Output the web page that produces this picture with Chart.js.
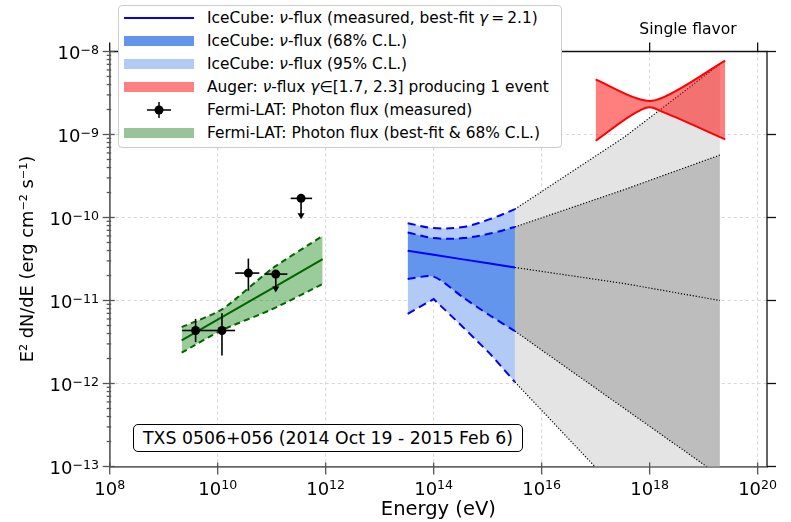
<!DOCTYPE html>
<html>
<head>
<meta charset="utf-8">
<script src="https://cdn.jsdelivr.net/npm/chart.js@4.4.1/dist/chart.umd.min.js"></script>
<style>
  body { margin: 0; background: #fff; font-family: "DejaVu Sans", sans-serif; }
  #wrap { position: relative; width: 791px; height: 522px; }
  #chart { position: absolute; left: 0; top: 0; }
  #legend {
    position: absolute; left: 118px; top: 5px; width: 444px; height: 143px;
    box-sizing: border-box; border: 1px solid #cccccc; border-radius: 4px;
    background: #fff; padding-top: 1px;
  }
  .row { height: 22.9px; display: flex; align-items: center; font-size: 15.4px; color: #000; white-space: nowrap; }
  .handle { width: 70px; height: 20px; margin-left: 5px; margin-right: 13px; position: relative; flex: none; }
  .hline { position: absolute; left: 0; right: 0; top: 9px; height: 2px; background: #0000ff; }
  .hpatch { position: absolute; left: 0; right: 0; top: 5px; height: 10px; }
  #srcbox {
    position: absolute; left: 133px; top: 424px; width: 390px; height: 28px;
    box-sizing: border-box; border: 1px solid #000; border-radius: 5px; background: #fff;
    font-size: 17.3px; line-height: 26px; text-align: center; color: #000; white-space: nowrap;
  }
  #flavor { position: absolute; left: 608px; top: 20px; width: 160px; text-align: center; font-size: 15.6px; color: #000; }
  .tick { position: absolute; width: 80px; font-size: 18px; line-height: 18px; color: #000; white-space: nowrap; }
  .tick span { font-size: 12.6px; position: relative; top: -5.6px; }
</style>
</head>
<body>
<div id="wrap">
  <canvas id="chart" width="791" height="522"></canvas>
  <div id="legend">
    <div class="row"><span class="handle"><span class="hline"></span></span><span>IceCube: <i>ν</i>-flux (measured, best-fit <i>γ</i>&thinsp;=&thinsp;2.1)</span></div>
    <div class="row"><span class="handle"><span class="hpatch" style="background:rgb(100,149,237)"></span></span><span>IceCube: <i>ν</i>-flux (68% C.L.)</span></div>
    <div class="row"><span class="handle"><span class="hpatch" style="background:rgb(177,202,246)"></span></span><span>IceCube: <i>ν</i>-flux (95% C.L.)</span></div>
    <div class="row"><span class="handle"><span class="hpatch" style="background:rgb(255,128,128)"></span></span><span>Auger: <i>ν</i>-flux <i>γ</i>∈[1.7, 2.3] producing 1 event</span></div>
    <div class="row"><span class="handle"><svg width="70" height="20"><line x1="23" y1="10" x2="47" y2="10" stroke="#000" stroke-width="1.5"/><line x1="35" y1="2" x2="35" y2="18" stroke="#000" stroke-width="1.5"/><circle cx="35" cy="10" r="4.5" fill="#000"/></svg></span><span>Fermi-LAT: Photon flux (measured)</span></div>
    <div class="row"><span class="handle"><span class="hpatch" style="background:rgb(153,196,153)"></span></span><span>Fermi-LAT: Photon flux (best-fit &amp; 68% C.L.)</span></div>
  </div>
  <div id="flavor">Single flavor</div>
  <div id="srcbox">TXS 0506+056 (2014 Oct 19 - 2015 Feb 6)</div>
</div>
<script>
// ============= AXES =============
const xTicks = [1e8, 1e10, 1e12, 1e14, 1e16, 1e18, 1e20];
const yTicks = [1e-13, 1e-12, 1e-11, 1e-10, 1e-9, 1e-8];

// ============= ICECUBE (measured range) =============
const icE     = [3.3e13, 1.0e14, 3.5e14, 1.1e15, 3.2e15];
const icFit   = [3.97e-11, 3.55e-11, 3.13e-11, 2.79e-11, 2.5e-11];
const ic68Up  = [6.6e-11, 5.65e-11, 5.65e-11, 6.4e-11, 7.7e-11];
const ic68Lo  = [1.82e-11, 1.94e-11, 1.09e-11, 6.6e-12, 4.27e-12];
const ic95Up  = [8.55e-11, 7.45e-11, 7.7e-11, 9.55e-11, 1.26e-10];
const ic95Lo  = [6.9e-12, 1.04e-11, 4.77e-12, 2.29e-12, 1.04e-12];

// ============= ICECUBE (extrapolation) =============
const extE     = [3.2e15, 3.4e17, 2.0e19];
const extFit   = [2.5e-11, 1.6e-11, 1.0e-11];
const ext68Up  = [7.7e-11, 2.17e-10, 5.66e-10];
const ext68Lo  = [4.27e-12, 5.0e-13, 7.7e-14];
const ext95Up  = [1.26e-10, 9.3e-10, 7.07e-9];
const ext95Lo  = [1.04e-12, 4.2e-14, 2.6e-15];

// ============= AUGER =============
const augerE  = [1e17, 5.75e17, 1e18, 1.78e18, 2.5e19];
const augerUp = [4.62e-9, 2.73e-9, 2.53e-9, 2.8e-9, 7.75e-9];
const augerLo = [8.4e-10, 1.86e-9, 2.13e-9, 1.86e-9, 8.75e-10];

// ============= FERMI-LAT =============
const fermiE   = [2.15e9, 1.2e10, 1.0e11, 8.8e11];
const fermiFit = [3.3e-12, 6.3e-12, 1.39e-11, 3.16e-11];
const fermiUp  = [4.77e-12, 7.8e-12, 2.4e-11, 6.0e-11];
const fermiLo  = [2.35e-12, 4.4e-12, 7.8e-12, 1.58e-11];

const fermiPtE = [3.9e9, 1.2e10, 3.7e10, 1.19e11, 3.5e11];
const fermiPtF = [4.35e-12, 4.35e-12, 2.14e-11, 2.08e-11, 1.7e-10];
const fermiELo = [2.2e9, 7.2e9, 2.1e10, 7.3e10, 2.25e11];
const fermiEHi = [7.2e9, 2.1e10, 5.9e10, 1.95e11, 5.6e11];
const fermiFLo = [3.15e-12, 2.18e-12, 1.31e-11, 1.25e-11, 9.5e-11];
const fermiFHi = [6.0e-12, 7.0e-12, 3.2e-11, 2.08e-11, 1.7e-10];
const fermiUL  = [false, false, false, true, true];

// ============= HELPERS =============
function pts(xs, ys) {
    return xs.map((x, i) => ({ x: x, y: ys[i] }));
}
function line(data, color, opts) {
    return Object.assign({
        data: data,
        borderColor: color,
        borderWidth: 2,
        pointRadius: 0,
        fill: false,
        tension: 0
    }, opts || {});
}
function expText(v) {
    return String(Math.round(Math.log10(v))).replace('-', '\u2212');
}

const BLUE = '#0000ff';
const GREEN = '#006400';
const DOT = [1.2, 1.8];

const datasets = [
    // 0-4 extrapolated regions (gray)
    line(pts(extE, ext95Up), '#000', { borderWidth: 1.2, borderDash: DOT, fill: '+1', backgroundColor: '#e4e4e4', order: 20 }),
    line(pts(extE, ext95Lo), '#000', { borderWidth: 1.2, borderDash: DOT, order: 16 }),
    line(pts(extE, ext68Up), '#000', { borderWidth: 1.2, borderDash: DOT, fill: '+1', backgroundColor: '#bdbdbd', order: 19 }),
    line(pts(extE, ext68Lo), '#000', { borderWidth: 1.2, borderDash: DOT, order: 16 }),
    line(pts(extE, extFit), '#000', { borderWidth: 1.2, borderDash: DOT, order: 16 }),
    // 5-9 IceCube
    line(pts(icE, ic95Up), BLUE, { borderDash: [8, 5], fill: '+1', backgroundColor: 'rgb(177,202,246)', tension: 0.35, order: 15 }),
    line(pts(icE, ic95Lo), BLUE, { borderDash: [8, 5], order: 12 }),
    line(pts(icE, ic68Up), BLUE, { borderDash: [8, 5], fill: '+1', backgroundColor: 'rgb(100,149,237)', tension: 0.35, order: 14 }),
    line(pts(icE, ic68Lo), BLUE, { borderDash: [8, 5], tension: 0.25, order: 12 }),
    line(pts(icE, icFit), BLUE, { order: 12 }),
    // 10-11 Auger
    line(pts(augerE, augerUp), '#ff0000', { fill: '+1', backgroundColor: 'rgba(255,0,0,0.5)', cubicInterpolationMode: 'monotone', order: 10 }),
    line(pts(augerE, augerLo), '#ff0000', { cubicInterpolationMode: 'monotone', order: 9 }),
    // 12-14 Fermi
    line(pts(fermiE, fermiUp), GREEN, { borderDash: [6, 4], fill: '+1', backgroundColor: 'rgba(0,128,0,0.4)', tension: 0.2, order: 8 }),
    line(pts(fermiE, fermiLo), GREEN, { borderDash: [6, 4], tension: 0.2, order: 7 }),
    line(pts(fermiE, fermiFit), GREEN, { order: 7 })
];

// ============= DECORATION PLUGIN =============
const decor = {
    id: 'decor',
    beforeDatasetsDraw(chart) {
        const { ctx, chartArea: a, scales: { x, y } } = chart;
        ctx.save();
        ctx.strokeStyle = '#cccccc';
        ctx.lineWidth = 0.8;
        ctx.setLineDash([3, 3]);
        xTicks.forEach(v => {
            const px = x.getPixelForValue(v);
            if (px <= a.left + 1 || px >= a.right - 1) return;
            ctx.beginPath(); ctx.moveTo(px, a.top); ctx.lineTo(px, a.bottom); ctx.stroke();
        });
        yTicks.forEach(v => {
            const py = y.getPixelForValue(v);
            if (py >= a.bottom - 1 || py <= a.top + 1) return;
            ctx.beginPath(); ctx.moveTo(a.left, py); ctx.lineTo(a.right, py); ctx.stroke();
        });
        ctx.restore();
    },
    afterDatasetsDraw(chart) {
        const { ctx, scales: { x, y } } = chart;
        ctx.save();
        ctx.strokeStyle = '#000';
        ctx.fillStyle = '#000';
        ctx.lineWidth = 1.6;
        fermiPtE.forEach((e, i) => {
            const px = x.getPixelForValue(e);
            const py = y.getPixelForValue(fermiPtF[i]);
            const x0 = x.getPixelForValue(fermiELo[i]);
            const x1 = x.getPixelForValue(fermiEHi[i]);
            const yLo = y.getPixelForValue(fermiFLo[i]);
            const yHi = y.getPixelForValue(fermiFHi[i]);
            ctx.beginPath(); ctx.moveTo(x0, py); ctx.lineTo(x1, py); ctx.stroke();
            if (fermiUL[i]) {
                ctx.beginPath(); ctx.moveTo(px, py); ctx.lineTo(px, yLo - 5); ctx.stroke();
                ctx.beginPath();
                ctx.moveTo(px - 3.5, yLo - 6); ctx.lineTo(px + 3.5, yLo - 6); ctx.lineTo(px, yLo);
                ctx.closePath(); ctx.fill();
            } else {
                ctx.beginPath(); ctx.moveTo(px, yHi); ctx.lineTo(px, yLo); ctx.stroke();
            }
            ctx.beginPath(); ctx.arc(px, py, 4.5, 0, Math.PI * 2); ctx.fill();
        });
        ctx.restore();
    },
    afterDraw(chart) {
        const { ctx, chartArea: a, scales: { x, y } } = chart;
        ctx.save();
        // top and right spines
        ctx.strokeStyle = '#111';
        ctx.lineWidth = 1.3;
        ctx.beginPath();
        ctx.moveTo(a.left, a.top); ctx.lineTo(a.right, a.top); ctx.lineTo(a.right, a.bottom);
        ctx.stroke();
        // top ticks and right ticks
        xTicks.forEach(v => {
            const px = x.getPixelForValue(v);
            ctx.beginPath(); ctx.moveTo(px, a.top); ctx.lineTo(px, a.top - 9); ctx.stroke();
        });
        yTicks.forEach(v => {
            const py = y.getPixelForValue(v);
            ctx.beginPath(); ctx.moveTo(a.right, py); ctx.lineTo(a.right + 9, py); ctx.stroke();
        });
        // left and bottom ticks (major + minor)
        ctx.strokeStyle = '#555';
        ctx.lineWidth = 1.3;
        yTicks.forEach((v, i) => {
            const py = y.getPixelForValue(v);
            ctx.beginPath(); ctx.moveTo(a.left - 7, py); ctx.lineTo(a.left + 5, py); ctx.stroke();
            if (i === yTicks.length - 1) return;
            for (let m = 2; m <= 9; m++) {
                const pm = y.getPixelForValue(v * m);
                ctx.beginPath(); ctx.moveTo(a.left - 3, pm); ctx.lineTo(a.left + 1.5, pm); ctx.stroke();
            }
        });
        xTicks.forEach(v => {
            const px = x.getPixelForValue(v);
            ctx.beginPath(); ctx.moveTo(px, a.bottom - 4); ctx.lineTo(px, a.bottom + 8); ctx.stroke();
        });
        ctx.restore();
    }
};

// ============= CHART =============
const chart = new Chart(document.getElementById('chart'), {
    type: 'line',
    data: { datasets: datasets },
    options: {
        responsive: false,
        animation: false,
        events: [],
        layout: { padding: { top: 51.5, right: 24, left: 0, bottom: 0 } },
        plugins: {
            legend: { display: false },
            tooltip: { enabled: false }
        },
        scales: {
            x: {
                type: 'logarithmic',
                min: 1e8,
                max: 1.49e20,
                afterFit: s => { s.height = 55.5; },
                afterBuildTicks: s => { s.ticks = xTicks.map(v => ({ value: v })); },
                grid: { display: false, drawTicks: false },
                border: { display: true, color: '#666', width: 1.8 },
                ticks: { display: false },
                title: {
                    display: true,
                    text: 'Energy (eV)',
                    color: '#000',
                    font: { family: 'DejaVu Sans', size: 19.5 },
                    padding: { top: 0, bottom: 0 }
                }
            },
            y: {
                type: 'logarithmic',
                min: 1e-13,
                max: 1e-8,
                afterFit: s => { s.width = 109.7; },
                afterBuildTicks: s => { s.ticks = yTicks.map(v => ({ value: v })); },
                grid: { display: false, drawTicks: false },
                border: { display: true, color: '#666', width: 1.8 },
                ticks: { display: false },
                title: {
                    display: true,
                    text: 'E² dN/dE (erg cm⁻² s⁻¹)',
                    color: '#000',
                    font: { family: 'DejaVu Sans', size: 17.8 },
                    padding: { top: 18, bottom: 0 }
                }
            }
        }
    },
    plugins: [decor]
});

// ============= TICK LABELS (10 with superscript exponent) =============
function addTickLabels(chart) {
    const wrap = document.getElementById('wrap');
    const { chartArea: a, scales: { x, y } } = chart;
    xTicks.forEach(v => {
        const d = document.createElement('div');
        d.className = 'tick';
        d.innerHTML = '10<span>' + expText(v) + '</span>';
        d.style.left = (x.getPixelForValue(v) - 40) + 'px';
        d.style.top = (a.bottom + 28.3 - 15.2) + 'px';
        d.style.textAlign = 'center';
        wrap.appendChild(d);
    });
    yTicks.forEach(v => {
        const d = document.createElement('div');
        d.className = 'tick';
        d.innerHTML = '10<span>' + expText(v) + '</span>';
        d.style.left = (a.left - 10.7 - 80) + 'px';
        d.style.top = (y.getPixelForValue(v) + 8 - 15.2) + 'px';
        d.style.textAlign = 'right';
        wrap.appendChild(d);
    });
}
addTickLabels(chart);
</script>
</body>
</html>
